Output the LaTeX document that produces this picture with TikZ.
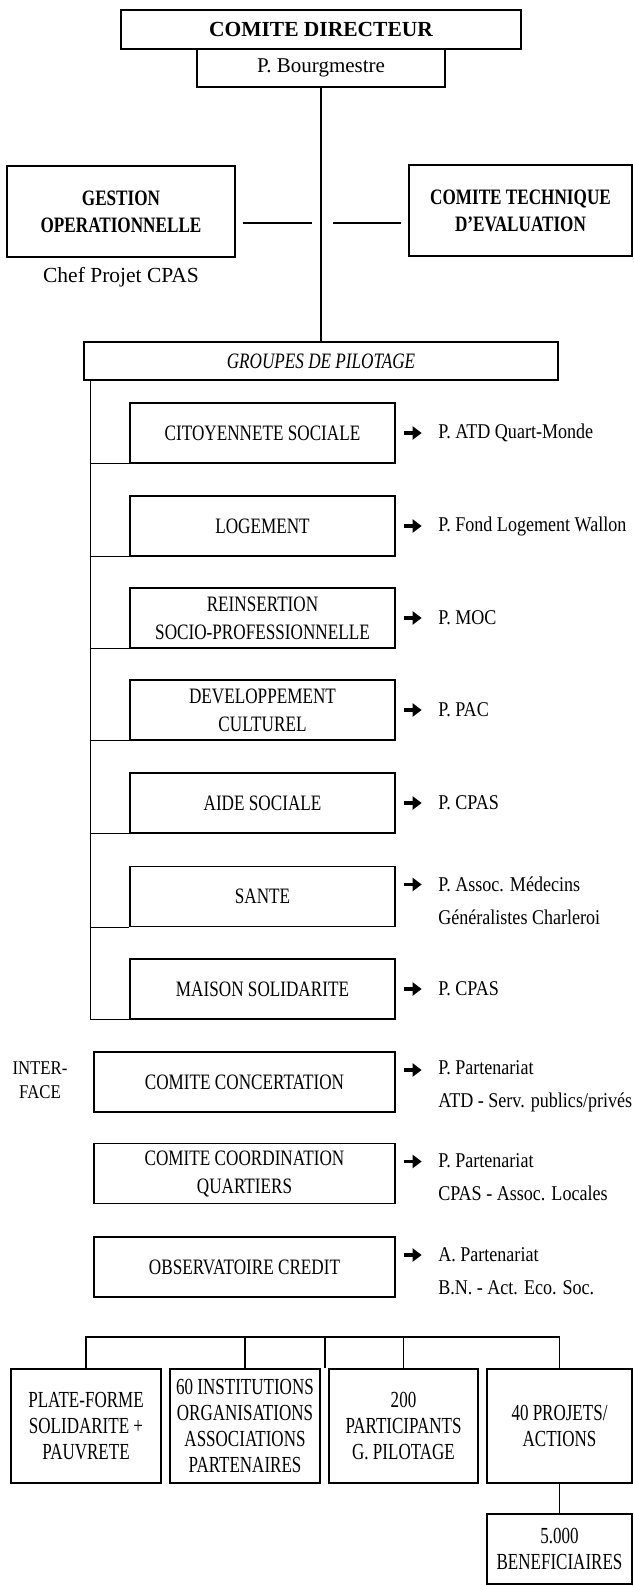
\documentclass[tikz,border=0pt]{standalone}
\usepackage{fontspec}
\setmainfont{Liberation Serif}
\newfontfamily\boxfont{Liberation Serif}[FakeStretch=0.78]
\newfontfamily\labfont{Liberation Serif}[FakeStretch=0.86]
\newfontfamily\botfont{Liberation Serif}[FakeStretch=0.74]
\usetikzlibrary{arrows.meta,positioning}

\begin{document}
\begin{tikzpicture}[x=1pt, y=-1pt, line width=1.2pt,
  orgbox/.style={draw, line width=1.3pt, inner sep=0pt, align=center},
  subbox/.style={orgbox, minimum width=265pt, minimum height=60pt, font=\boxfont\fontsize{22}{28}\selectfont},
  botbox/.style={orgbox, minimum height=114pt, font=\botfont\fontsize{23}{26}\selectfont},
  plab/.style={inner sep=0pt, align=left, font=\labfont\fontsize{21}{33}\selectfont},
  parr/.style={line width=3.5pt, -{Triangle[length=9pt,width=13pt]}, shorten <=8pt, shorten >=16pt}]
\useasboundingbox (0,0) rectangle (633,1586);

\node[orgbox, minimum width=400pt, minimum height=39pt, font=\bfseries\fontsize{21.5}{24}\selectfont] (dir) at (321,29.5) {COMITE DIRECTEUR};
\node[orgbox, minimum width=248pt, minimum height=38pt, font=\fontsize{21}{24}\selectfont] (bourg) at (321,68) {P. Bourgmestre};
\node[orgbox, minimum width=228pt, minimum height=91pt, font=\boxfont\bfseries\fontsize{22}{27}\selectfont] (gest) at (121,211.5) {GESTION\\OPERATIONNELLE};
\node[orgbox, minimum width=223pt, minimum height=91pt, font=\boxfont\bfseries\fontsize{22}{27}\selectfont] (tech) at (520.5,210.5) {COMITE TECHNIQUE\\D’EVALUATION};
\node[font=\fontsize{21.5}{24}\selectfont] (chef) at (121,277) {Chef Projet CPAS};
\node[orgbox, minimum width=474pt, minimum height=38pt, font=\boxfont\itshape\fontsize{22}{24}\selectfont] (grp) at (321,361) {GROUPES DE PILOTAGE};

\node[subbox] (cit) at (262.5,433) {CITOYENNETE SOCIALE};
\node[subbox] (log) at (262.5,526) {LOGEMENT};
\node[subbox] (rein) at (262.5,618) {REINSERTION\\SOCIO-PROFESSIONNELLE};
\node[subbox] (dev) at (262.5,710) {DEVELOPPEMENT\\CULTUREL};
\node[subbox] (aide) at (262.5,803) {AIDE SOCIALE};
\node[subbox] (sant) at (262.5,896.5) {SANTE};
\node[subbox] (mais) at (262.5,989) {MAISON SOLIDARITE};

\node[font=\labfont\fontsize{19.5}{24}\selectfont, align=center] (inter) at (40,1080) {INTER-\\FACE};
\node[subbox, minimum width=301pt] (conc) at (244.5,1082) {COMITE CONCERTATION};
\node[subbox, minimum width=301pt] (coord) at (244.5,1173.5) {COMITE COORDINATION\\QUARTIERS};
\node[subbox, minimum width=301pt] (obs) at (244.5,1267) {OBSERVATOIRE CREDIT};

\node[plab, right=42pt of cit] (citp) {P. ATD Quart-Monde};
\node[plab, right=42pt of log] (logp) {P. Fond Logement Wallon};
\node[plab, right=42pt of rein] (reinp) {P. MOC};
\node[plab, right=42pt of dev] (devp) {P. PAC};
\node[plab, right=42pt of aide] (aidep) {P. CPAS};
\node[plab, right=42pt of sant, yshift=-4pt] (santp) {P. Assoc. Médecins\\Généralistes Charleroi};
\node[plab, right=42pt of mais] (maisp) {P. CPAS};
\node[plab, right=42pt of conc, yshift=-4pt] (concp) {P. Partenariat\\ATD - Serv. publics/privés};
\node[plab, right=42pt of coord, yshift=-4pt] (coordp) {P. Partenariat\\CPAS - Assoc. Locales};
\node[plab, right=42pt of obs, yshift=-4pt] (obsp) {A. Partenariat\\B.N. - Act. Eco. Soc.};

\node[botbox, minimum width=150pt] (plat) at (86,1426) {PLATE-FORME\\SOLIDARITE +\\PAUVRETE};
\node[botbox, minimum width=150pt] (inst) at (245,1426) {60 INSTITUTIONS\\ORGANISATIONS\\ASSOCIATIONS\\PARTENAIRES};
\node[botbox, minimum width=149pt] (part) at (403.5,1426) {200\\PARTICIPANTS\\G. PILOTAGE};
\node[botbox, minimum width=145pt] (proj) at (559.5,1426) {40 PROJETS/\\ACTIONS};
\node[botbox, minimum width=145pt, minimum height=70pt] (benef) at (559.5,1549) {5.000\\BENEFICIAIRES};

\draw (bourg) -- (grp);
\coordinate (mid) at (321,223);
\draw[shorten <=7pt, shorten >=9pt] (gest.east |- mid) -- (mid);
\draw[shorten <=12pt, shorten >=7pt] (mid) -- (tech.west |- mid);

\coordinate (spine) at ([xshift=7pt]grp.south west);
\draw (spine) |- (mais.south west);
\draw (spine |- cit.south) -- (cit.south west);
\draw (spine |- log.south) -- (log.south west);
\draw (spine |- rein.south) -- (rein.south west);
\draw (spine |- dev.south) -- (dev.south west);
\draw (spine |- aide.south) -- (aide.south west);
\draw (spine |- sant.south) -- (sant.south west);

\draw[parr] (cit) -- (citp);
\draw[parr] (log) -- (logp);
\draw[parr] (rein) -- (reinp);
\draw[parr] (dev) -- (devp);
\draw[parr] (aide) -- (aidep);
\draw[parr] ([yshift=12pt]sant.east) -- ([yshift=16pt]santp.west);
\draw[parr] (mais) -- (maisp);
\draw[parr] ([yshift=12pt]conc.east) -- ([yshift=16pt]concp.west);
\draw[parr] ([yshift=12pt]coord.east) -- ([yshift=16pt]coordp.west);
\draw[parr] ([yshift=12pt]obs.east) -- ([yshift=16pt]obsp.west);

\coordinate (hub) at (325,1337);
\draw (plat.north) |- (hub) -| (proj.north);
\draw (hub) -- (hub |- plat.north);
\draw (inst) -- (inst |- hub);
\draw (part) -- (part |- hub);
\draw (proj) -- (benef);
\end{tikzpicture}
\end{document}
